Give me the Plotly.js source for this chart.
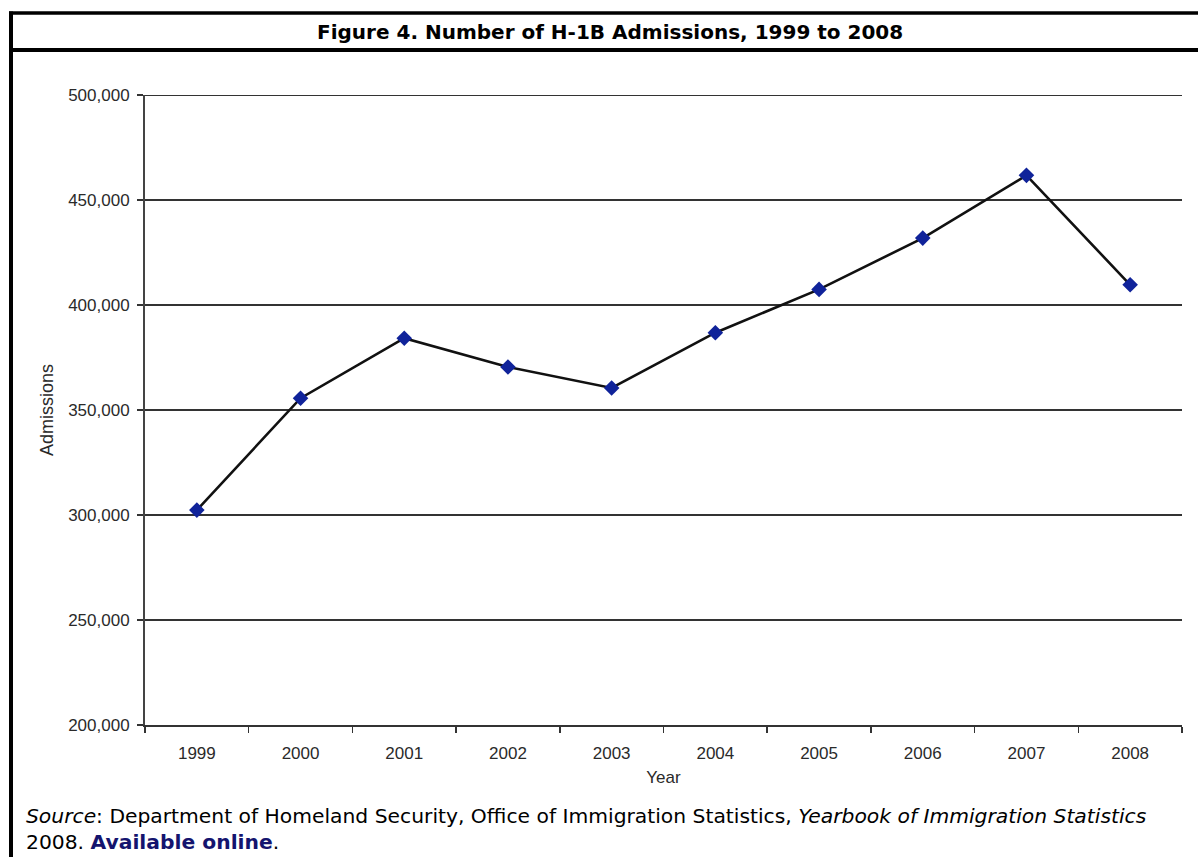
<!DOCTYPE html>
<html>
<head>
<meta charset="utf-8">
<script src="https://cdn.plot.ly/plotly-3.0.1.min.js"></script>
<style>
  html, body { margin: 0; padding: 0; background: #fff; }
  #chart { width: 1198px; height: 857px; }
</style>
</head>
<body>
<div id="chart"></div>
<script>
// Data
const years = ["1999", "2000", "2001", "2002", "2003", "2004", "2005", "2006", "2007", "2008"];
const admissions = [302326, 355605, 384191, 370490, 360498, 386821, 407418, 431853, 461730, 409619];
const yTickValues = [200000, 250000, 300000, 350000, 400000, 450000, 500000];
const yTickLabels = ["200,000", "250,000", "300,000", "350,000", "400,000", "450,000", "500,000"];

const chartTitle = "Figure 4. Number of H-1B Admissions, 1999 to 2008";
const xTitle = "Year";
const yTitle = "Admissions";

// Pixel geometry helpers for decorations (frame, title, source)
const W = 1198, H = 857;
const mL = 145, mR = 16, mT = 95, mB = 132;
const pw = W - mL - mR, ph = H - mT - mB;
const px = x => (x - mL) / pw;
const py = y => (H - mB - y) / ph;

const trace = {
  x: years,
  y: admissions,
  type: "scatter",
  mode: "lines+markers",
  line: { color: "#111111", width: 2.6 },
  marker: { symbol: "diamond", size: 12, color: "#10239a" },
  hoverinfo: "x+y",
  cliponaxis: false
};

const axisFont = { family: "Liberation Sans, Arial, sans-serif", size: 17, color: "#2a2a2a" };

const layout = {
  width: W,
  height: H,
  margin: { l: mL, r: mR, t: mT, b: mB },
  paper_bgcolor: "#ffffff",
  plot_bgcolor: "#ffffff",
  showlegend: false,
  xaxis: {
    type: "category",
    tickson: "boundaries",
    ticks: "outside",
    ticklen: 6,
    tickwidth: 1.5,
    tickcolor: "#333",
    showline: true,
    linecolor: "#333",
    linewidth: 2,
    showgrid: false,
    zeroline: false,
    tickfont: axisFont,
    ticklabelstandoff: 12,
    title: { text: xTitle, font: axisFont, standoff: 9 },
    range: [-0.5, 9.5]
  },
  yaxis: {
    range: [200000, 500000],
    tickvals: yTickValues,
    ticktext: yTickLabels,
    ticks: "outside",
    ticklen: 6,
    tickwidth: 1.5,
    tickcolor: "#333",
    showline: true,
    linecolor: "#444",
    linewidth: 2,
    showgrid: true,
    gridcolor: "#333333",
    gridwidth: 1.8,
    zeroline: false,
    tickfont: axisFont,
    ticklabelstandoff: 4,
    title: { text: yTitle, font: { family: "Liberation Sans, Arial, sans-serif", size: 18, color: "#2a2a2a" }, standoff: 10 }
  },
  shapes: [
    // top gridline at the range edge
    { type: "line", xref: "paper", yref: "y", x0: 0, x1: 1, y0: 500000, y1: 500000, line: { color: "#333333", width: 2.2 }, layer: "below" },
    // top frame line
    { type: "line", xref: "paper", yref: "paper", x0: px(9), x1: px(W + 5), y0: py(13), y1: py(13), line: { color: "#000", width: 3.5 } },
    // line under title
    { type: "line", xref: "paper", yref: "paper", x0: px(9), x1: px(W + 5), y0: py(50), y1: py(50), line: { color: "#000", width: 4 } },
    // left frame line
    { type: "line", xref: "paper", yref: "paper", x0: px(11), x1: px(11), y0: py(11.5), y1: py(H + 5), line: { color: "#000", width: 4 } }
  ],
  annotations: [
    {
      text: "<b>" + chartTitle + "</b>",
      xref: "paper", yref: "paper",
      x: px(610), y: py(32),
      xanchor: "center", yanchor: "middle",
      showarrow: false,
      font: { family: "DejaVu Sans, Verdana, sans-serif", size: 20, color: "#000" }
    },
    {
      text: "<i>Source</i>: Department of Homeland Security, Office of Immigration Statistics, <i>Yearbook of Immigration Statistics</i><br>2008. <b><span style=\"color:#14146e\">Available online</span></b>.",
      xref: "paper", yref: "paper",
      x: px(24), y: py(802),
      xanchor: "left", yanchor: "top",
      align: "left",
      showarrow: false,
      font: { family: "DejaVu Sans, Verdana, sans-serif", size: 20.3, color: "#000" }
    }
  ]
};

Plotly.newPlot("chart", [trace], layout, { displayModeBar: false, staticPlot: true });
</script>
</body>
</html>
